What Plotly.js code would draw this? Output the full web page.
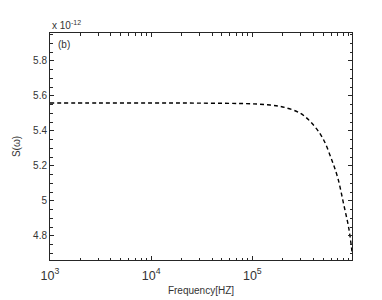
<!DOCTYPE html>
<html><head><meta charset="utf-8">
<script src="https://cdn.plot.ly/plotly-3.0.1.min.js"></script>
<style>html,body{margin:0;padding:0;background:#fff}#c{width:382px;height:300px}</style>
</head><body><div id="c"></div>
<script>
// Frequency in Hz
const freq = [1e3, 3e3, 1e4, 3e4, 1e5, 1.5e5, 2e5, 3e5, 4e5, 5e5, 6e5, 7e5, 8e5, 9e5, 9.7e5];
// S(omega) in units of 1e-12
const sOmega = [5.56, 5.56, 5.56, 5.559, 5.555, 5.548, 5.537, 5.50, 5.435, 5.355, 5.245, 5.13, 4.98, 4.84, 4.70];
const yScaleLabel = 'x 10<sup>-12</sup>';

const font = {family: 'Liberation Sans, Arial, sans-serif', size: 10, color: '#333'};
const trace = {
  x: freq, y: sOmega, type: 'scatter', mode: 'lines',
  line: {color: '#000', width: 1.4, dash: '4px,3px', shape: 'spline'},
  hoverinfo: 'skip'
};
const layout = {
  width: 382, height: 300,
  margin: {l: 50, r: 30, t: 33, b: 40},
  paper_bgcolor: '#fff', plot_bgcolor: '#fff',
  font: font, showlegend: false,
  xaxis: {
    type: 'log', range: [3, 5.985], dtick: 1, exponentformat: 'power',
    ticks: 'inside', ticklen: 4, tickcolor: '#262626',
    showline: true, linecolor: '#262626', linewidth: 1, mirror: 'ticks',
    showgrid: false, zeroline: false, ticklabelstandoff: 4,
    minor: {ticks: 'inside', ticklen: 2.5, dtick: 'D1', tickcolor: '#262626', showgrid: false},
    title: {text: 'Frequency[HZ]', font: font, standoff: 5},
    tickfont: font
  },
  yaxis: {
    range: [4.662, 5.96], dtick: 0.2, tick0: 4.8,
    ticks: 'inside', ticklen: 4, tickcolor: '#262626',
    showline: true, linecolor: '#262626', linewidth: 1, mirror: 'ticks',
    showgrid: false, zeroline: false,
    minor: {ticks: 'inside', ticklen: 2.5, dtick: 0.05, tickcolor: '#262626', showgrid: false},
    title: {text: 'S(ω)', font: font, standoff: 10},
    tickfont: font
  },
  annotations: [
    {xref: 'paper', yref: 'paper', x: 0, y: 1, xanchor: 'left', yanchor: 'bottom',
     text: yScaleLabel, showarrow: false, font: font, xshift: 0, yshift: 0},
    {xref: 'paper', yref: 'paper', x: 0, y: 1, xanchor: 'left', yanchor: 'top',
     text: '(b)', showarrow: false, font: font, xshift: 6, yshift: -4}
  ]
};
Plotly.newPlot('c', [trace], layout, {staticPlot: true, displayModeBar: false});
</script></body></html>
